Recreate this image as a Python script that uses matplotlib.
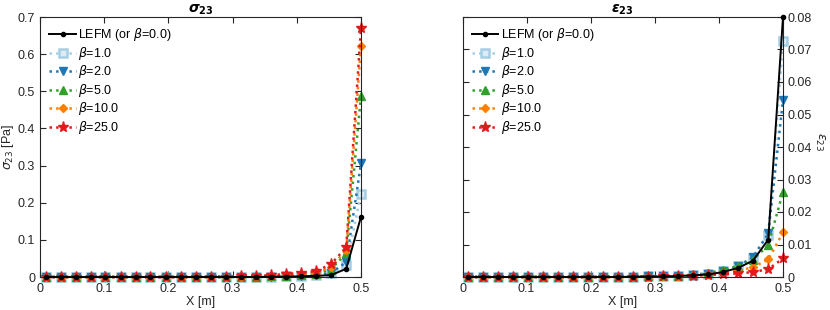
import numpy as np
import matplotlib
matplotlib.use('Agg')
import matplotlib.pyplot as plt
from matplotlib.ticker import FuncFormatter

plt.rcParams['font.family'] = ['Liberation Sans', 'DejaVu Sans']
plt.rcParams['mathtext.fontset'] = 'dejavusans'
plt.rcParams['font.size'] = 9

# crack-tip distance
x = [0.009, 0.032, 0.056, 0.079, 0.102, 0.126, 0.149, 0.172, 0.196, 0.219, 0.243,
     0.266, 0.289, 0.313, 0.336, 0.360, 0.383, 0.406, 0.430, 0.453, 0.477, 0.500]

labels = ['LEFM (or $\\beta$=0.0)', '$\\beta$=1.0', '$\\beta$=2.0',
          '$\\beta$=5.0', '$\\beta$=10.0', '$\\beta$=25.0']

# sigma_23 [Pa]
s_lefm = [0.000, 0.000, 0.000, 0.000, 0.000, 0.000, 0.000, 0.000, 0.000, 0.000, 0.000,
          0.000, 0.000, 0.000, 0.000, 0.001, 0.001, 0.002, 0.003, 0.005, 0.022, 0.162]
s_b1 = [0.000, 0.000, 0.000, 0.000, 0.000, 0.000, 0.000, 0.000, 0.000, 0.000, 0.000,
        0.000, 0.000, 0.000, 0.001, 0.001, 0.002, 0.003, 0.005, 0.010, 0.032, 0.223]
s_b2 = [0.000, 0.000, 0.000, 0.000, 0.000, 0.000, 0.000, 0.000, 0.000, 0.000, 0.000,
        0.000, 0.000, 0.000, 0.001, 0.001, 0.002, 0.003, 0.005, 0.011, 0.040, 0.306]
s_b5 = [0.000, 0.000, 0.000, 0.000, 0.000, 0.000, 0.000, 0.000, 0.000, 0.000, 0.000,
        0.000, 0.000, 0.001, 0.001, 0.002, 0.003, 0.005, 0.009, 0.020, 0.064, 0.488]
s_b10 = [0.000, 0.000, 0.000, 0.000, 0.000, 0.000, 0.000, 0.000, 0.000, 0.000, 0.000,
         0.000, 0.000, 0.001, 0.002, 0.003, 0.005, 0.007, 0.012, 0.026, 0.072, 0.623]
s_b25 = [0.000, 0.000, 0.000, 0.000, 0.000, 0.000, 0.000, 0.000, 0.000, 0.000, 0.001,
         0.001, 0.001, 0.002, 0.003, 0.005, 0.008, 0.011, 0.016, 0.034, 0.080, 0.670]

# epsilon_23
e_lefm = [0.0000, 0.0000, 0.0000, 0.0000, 0.0000, 0.0000, 0.0000, 0.0000, 0.0000, 0.0000, 0.0000,
          0.0001, 0.0001, 0.0002, 0.0003, 0.0005, 0.0008, 0.0015, 0.0028, 0.0050, 0.0115, 0.0800]
e_b1 = [0.0000, 0.0000, 0.0000, 0.0000, 0.0000, 0.0000, 0.0000, 0.0000, 0.0000, 0.0000, 0.0001,
        0.0001, 0.0002, 0.0003, 0.0004, 0.0006, 0.0010, 0.0018, 0.0033, 0.0060, 0.0130, 0.0726]
e_b2 = [0.0000, 0.0000, 0.0000, 0.0000, 0.0000, 0.0000, 0.0000, 0.0000, 0.0000, 0.0000, 0.0001,
        0.0001, 0.0002, 0.0003, 0.0004, 0.0006, 0.0010, 0.0019, 0.0033, 0.0061, 0.0134, 0.0545]
e_b5 = [0.0000, 0.0000, 0.0000, 0.0000, 0.0000, 0.0000, 0.0000, 0.0000, 0.0000, 0.0000, 0.0001,
        0.0001, 0.0002, 0.0003, 0.0004, 0.0007, 0.0012, 0.0022, 0.0034, 0.0053, 0.0098, 0.0262]
e_b10 = [0.0000, 0.0000, 0.0000, 0.0000, 0.0000, 0.0000, 0.0000, 0.0000, 0.0000, 0.0000, 0.0000,
         0.0001, 0.0001, 0.0002, 0.0003, 0.0005, 0.0008, 0.0013, 0.0019, 0.0030, 0.0054, 0.0137]
e_b25 = [0.0000, 0.0000, 0.0000, 0.0000, 0.0000, 0.0000, 0.0000, 0.0000, 0.0000, 0.0000, 0.0000,
         0.0001, 0.0001, 0.0002, 0.0003, 0.0004, 0.0006, 0.0008, 0.0011, 0.0015, 0.0024, 0.0057]

sig = [s_lefm, s_b1, s_b2, s_b5, s_b10, s_b25]
eps = [e_lefm, e_b1, e_b2, e_b5, e_b10, e_b25]

colors = ['k', '#a6cee3', '#1f78b4', '#33a02c', '#ff7f00', '#e31a1c']
markers = ['.', 's', 'v', '^', 'D', '*']
msizes = [6, 5.5, 6, 6, 4.5, 8]
axcol = '#262626'


def draw(ax, data):
    for i in range(6):
        if i == 0:
            ax.plot(x, data[i], color='k', ls='-', lw=1.4, marker='.', ms=msizes[i],
                    label=labels[i], zorder=3)
        elif i == 1:
            ax.plot(x, data[i], color=colors[i], ls=':', lw=1.8, marker='s', ms=msizes[i],
                    mfc='#dcebf5', mec=colors[i], mew=1.8, label=labels[i])
        else:
            ax.plot(x, data[i], color=colors[i], ls=':', lw=1.8, marker=markers[i],
                    ms=msizes[i], label=labels[i])
    ax.set_xlim(0, 0.5)
    ax.set_xticks([0, 0.1, 0.2, 0.3, 0.4, 0.5])
    ax.xaxis.set_major_formatter(FuncFormatter(lambda v, p: '%g' % round(v, 3)))
    ax.yaxis.set_major_formatter(FuncFormatter(lambda v, p: '%g' % round(v, 3)))
    ax.tick_params(direction='in', top=True, bottom=True, left=True, right=True,
                   colors=axcol, length=4, labelsize=9)
    ax.tick_params(axis='x', pad=4)
    for sp in ax.spines.values():
        sp.set_color(axcol)
        sp.set_linewidth(0.8)
    ax.set_xlabel('X [m]', color=axcol, fontsize=9)
    ax.xaxis.set_label_coords(0.5, -0.073)
    leg = ax.legend(loc='upper left', frameon=False, fontsize=9, handlelength=2.1,
                    handletextpad=0.2, labelspacing=0.12, borderaxespad=0.35)
    for t in leg.get_texts():
        t.set_color('black')


fig = plt.figure(figsize=(8.3, 3.1), dpi=100)
ax1 = fig.add_axes([40 / 830, 1 - 277 / 310, 321 / 830, 260 / 310])
ax2 = fig.add_axes([462.5 / 830, 1 - 277 / 310, 320.5 / 830, 260 / 310])

draw(ax1, sig)
ax1.set_ylim(0, 0.7)
ax1.set_yticks(np.arange(0, 0.71, 0.1))
ax1.set_ylabel('$\\sigma_{23}$ [Pa]', color=axcol, fontsize=9)
ax1.yaxis.set_label_coords(-0.075, 0.5)
ax1.set_title('$\\boldsymbol{\\sigma}_{\\mathbf{23}}$', fontsize=10, pad=3)

draw(ax2, eps)
ax2.set_ylim(0, 0.08)
ax2.set_yticks(np.arange(0, 0.081, 0.01))
ax2.yaxis.tick_right()
ax2.tick_params(direction='in', left=True, right=True)
ax2.yaxis.set_label_position('right')
ax2.set_ylabel('$\\epsilon_{23}$', color=axcol, fontsize=9, rotation=270)
ax2.yaxis.set_label_coords(1.133, 0.52)
ax2.set_title('$\\boldsymbol{\\epsilon}_{\\mathbf{23}}$', fontsize=10, pad=3)

for ax in (ax1, ax2):
    for l in ax.get_lines():
        l.set_clip_on(False)

fig.savefig('out.png', dpi=100)
